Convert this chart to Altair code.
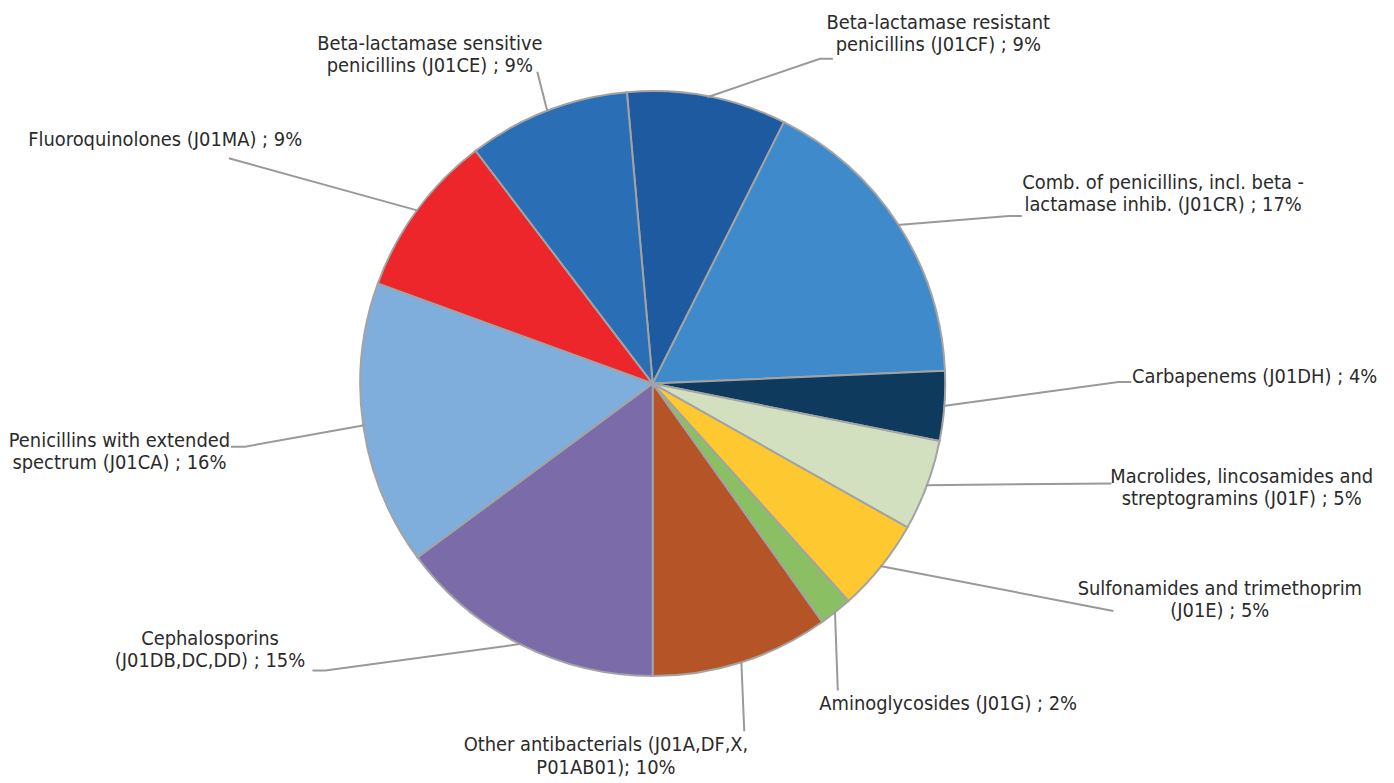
import math
import altair as alt
import pandas as pd

# ---- data (clockwise from the top) ----
categories = [
    "Beta-lactamase resistant penicillins (J01CF)",
    "Comb. of penicillins, incl. beta-lactamase inhib. (J01CR)",
    "Carbapenems (J01DH)",
    "Macrolides, lincosamides and streptogramins (J01F)",
    "Sulfonamides and trimethoprim (J01E)",
    "Aminoglycosides (J01G)",
    "Other antibacterials (J01A,DF,X, P01AB01)",
    "Cephalosporins (J01DB,DC,DD)",
    "Penicillins with extended spectrum (J01CA)",
    "Fluoroquinolones (J01MA)",
    "Beta-lactamase sensitive penicillins (J01CE)",
]
shares = [8.81, 16.89, 3.84, 5.04, 5.15, 1.83, 9.83, 14.86, 15.69, 9.08, 8.94]
label_texts = [
    "Beta-lactamase  resistant\npenicillins (J01CF) ; 9%",
    "Comb. of penicillins, incl. beta -\nlactamase  inhib. (J01CR)   ; 17%",
    "Carbapenems  (J01DH)   ; 4%",
    "Macrolides, lincosamides and\nstreptogramins  (J01F) ; 5%",
    "Sulfonamides  and trimethoprim\n(J01E) ; 5%",
    "Aminoglycosides  (J01G)  ; 2%",
    "Other antibacterials  (J01A,DF,X,\nP01AB01);  10%",
    "Cephalosporins\n(J01DB,DC,DD)   ; 15%",
    "Penicillins with extended\nspectrum (J01CA)  ; 16%",
    "Fluoroquinolones  (J01MA) ; 9%",
    "Beta-lactamase  sensitive\npenicillins (J01CE)  ; 9%",
]

# ---- styles ----
colors = ["#1D5AA0", "#3F8ACA", "#0E3A5E", "#D3E0BF", "#FEC930", "#8BBF64",
          "#B55426", "#7B6CA9", "#7FAEDD", "#EC262A", "#2A6EB5"]

# ---- layout (page pixels; chart origin is at 8,8) ----
M = 8
CX, CY, R = 652 - M, 383.5 - M, 294
START = math.radians(-5.07)
# label anchor (centre x, first baseline y)
label_pos = [(939, 27), (1165, 188), (1257, 383), (1244, 483), (1222, 596),
             (949, 712), (605, 753), (207, 646), (116, 447), (162, 145), (428, 48)]
# leader elbow and end points
leader_pts = [
    [(820, 57), (833, 57)],
    [(1010, 215), (1023, 215)],
    [(1120, 382), (1133, 382)],
    [(1113, 484)],
    [(1115, 612)],
    [(838, 692)],
    [(744, 733)],
    [(323, 672), (310, 672)],
    [(242, 447), (228, 447)],
    [(226, 157)],
    [(536, 70)],
]

df = pd.DataFrame({"cat": categories, "share": shares, "idx": range(len(shares))})

total = sum(shares)
rows = []
lab_rows = []
cum = 0.0
for i, (c, v) in enumerate(zip(categories, shares)):
    mid = START + 2 * math.pi * (cum + v / 2) / total
    cum += v
    sx = CX + (R - 1) * math.sin(mid)
    sy = CY - (R - 1) * math.cos(mid)
    pts = [(sx, sy)] + [(px - M, py - M) for px, py in leader_pts[i]]
    for k, (px, py) in enumerate(pts):
        rows.append({"cat": c, "k": k, "x": px, "y": py})
    lx, ly = label_pos[i]
    lab_rows.append({"cat": c, "x": lx - M, "y": ly - M, "t": label_texts[i]})

lines_df = pd.DataFrame(rows)
labels_df = pd.DataFrame(lab_rows)

pie = alt.Chart(df).mark_arc(
    radius=R, stroke="#A3A3A3", strokeWidth=2
).encode(
    theta=alt.Theta("share:Q", stack=True,
                    scale=alt.Scale(range=[START, START + 2 * math.pi])),
    color=alt.Color("cat:N", scale=alt.Scale(domain=categories, range=colors), legend=None),
    order=alt.Order("idx:Q"),
    x=alt.value(CX),
    y=alt.value(CY),
)

leaders = alt.Chart(lines_df).mark_line(
    color="#999999", strokeWidth=2
).encode(
    x=alt.X("x:Q", scale=None, axis=None),
    y=alt.Y("y:Q", scale=None, axis=None),
    detail="cat:N",
    order="k:Q",
)

labels = alt.Chart(labels_df).mark_text(
    align="center", baseline="alphabetic", lineBreak="\n", lineHeight=22.5,
    font="Liberation Sans Narrow, DejaVu Sans Condensed, sans-serif",
    fontSize=20, color="#2B2B2B"
).encode(
    x=alt.X("x:Q", scale=None, axis=None),
    y=alt.Y("y:Q", scale=None, axis=None),
    text="t:N",
)

chart = alt.layer(pie, leaders, labels).properties(
    width=1378, height=767, padding=0
).configure_view(strokeWidth=0)

chart.save("out.html", embed_options={"renderer": "svg", "actions": False})
